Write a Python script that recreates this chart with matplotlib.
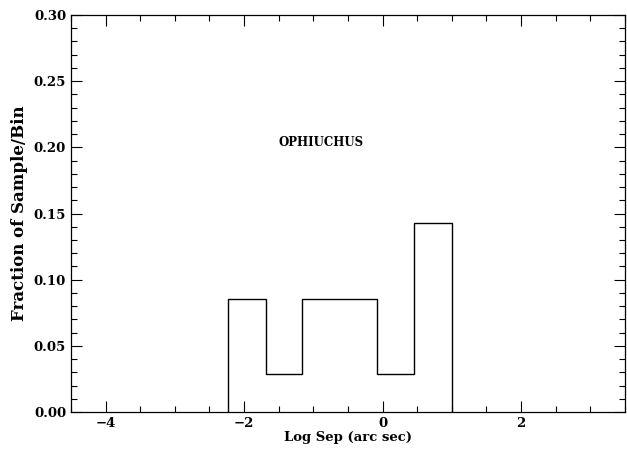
import numpy as np
import matplotlib
matplotlib.use('Agg')
import matplotlib.pyplot as plt
from matplotlib.ticker import MultipleLocator

# histogram bin edges (log separation, arc sec) and fraction per bin
bin_edges = [-2.23, -1.69, -1.16, -0.62, -0.08, 0.46, 1.0]
fractions = [0.0857, 0.0286, 0.0857, 0.0857, 0.0286, 0.1429]

region_name = 'OPHIUCHUS'
x_label = 'Log Sep (arc sec)'
y_label = 'Fraction of Sample/Bin'

plt.rcParams['font.family'] = ['DejaVu Serif']
plt.rcParams['font.weight'] = 'bold'

fig = plt.figure(figsize=(6.27, 4.51), dpi=100)
ax = fig.add_axes([0.1132, 0.0865, 0.8836, 0.8802])

ax.stairs(fractions, bin_edges, color='black', linewidth=1.0, baseline=0.0)

ax.set_xlim(-4.5, 3.5)
ax.set_ylim(0.0, 0.30)
ax.xaxis.set_major_locator(MultipleLocator(2))
ax.xaxis.set_minor_locator(MultipleLocator(0.5))
ax.yaxis.set_major_locator(MultipleLocator(0.05))
ax.yaxis.set_minor_locator(MultipleLocator(0.01))
ax.yaxis.set_major_formatter(plt.FormatStrFormatter('%.2f'))
ax.tick_params(which='both', direction='in', top=True, right=True,
               labelsize=9.5, width=0.8)
ax.tick_params(which='major', length=8)
ax.tick_params(which='minor', length=4)
for lab in ax.get_xticklabels() + ax.get_yticklabels():
    lab.set_fontweight('bold')
for s in ax.spines.values():
    s.set_linewidth(0.9)

ax.set_xlabel(x_label, fontsize=9.5, fontweight='bold', labelpad=1)
ax.set_ylabel(y_label, fontsize=12, fontweight='bold', labelpad=4)
ax.text(-0.89, 0.204, region_name, fontsize=8.5, fontweight='bold',
        ha='center', va='center')

fig.savefig('out.png', dpi=100)
